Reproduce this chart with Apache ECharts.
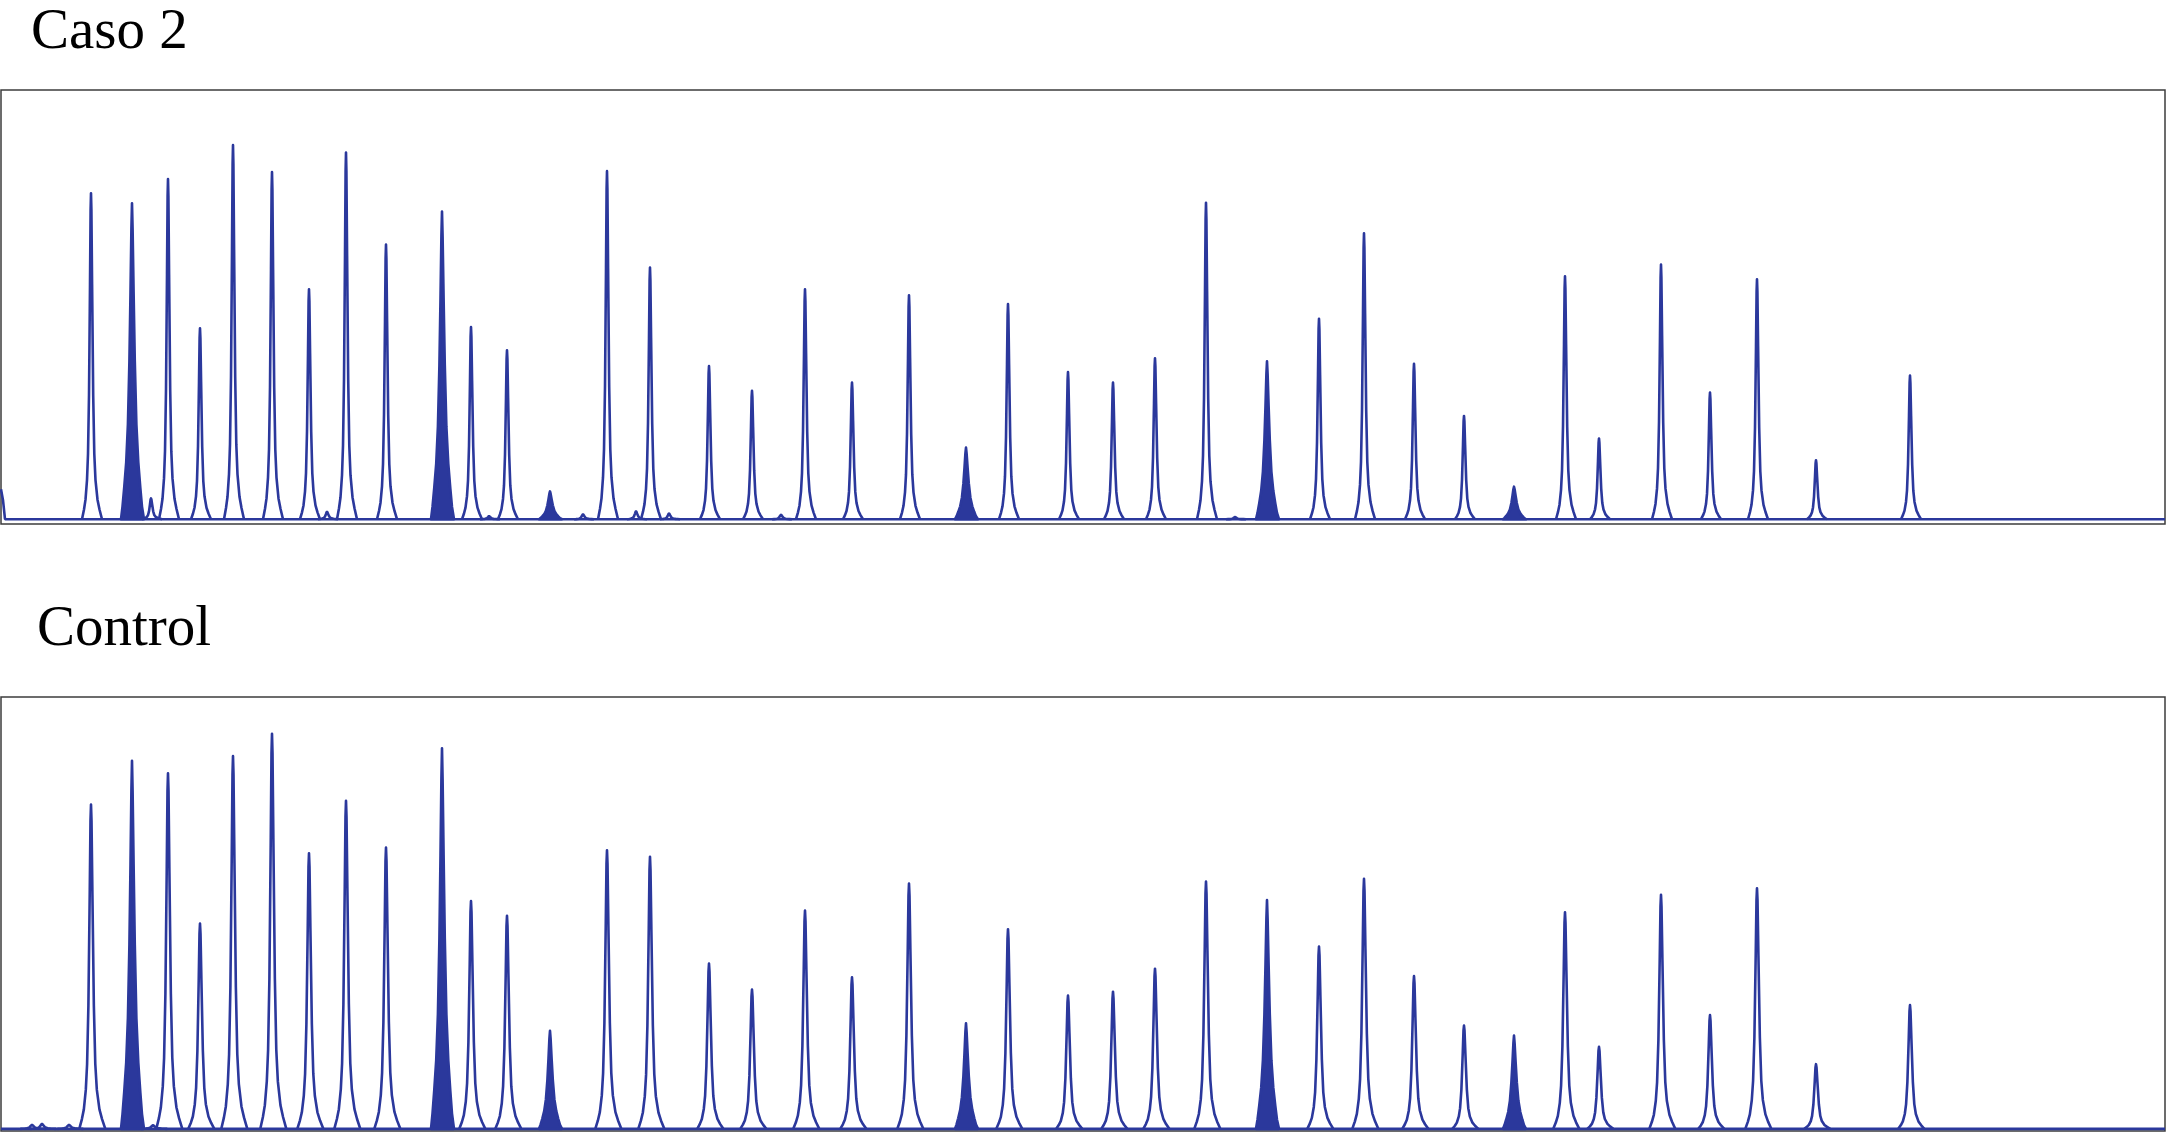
<!DOCTYPE html>
<html>
<head>
<meta charset="utf-8">
<script src="https://cdn.jsdelivr.net/npm/echarts@6/dist/echarts.min.js"></script>
<style>
html, body { margin: 0; padding: 0; background: #fff; }
#main { width: 2167px; height: 1133px; }
</style>
</head>
<body>
<div id="main"></div>
<script>
// peak positions along the trace (scan units), same for both runs
var peakPos = [91, 132, 168, 200, 233, 272, 309, 346, 386, 442, 471, 507, 550,
  607, 650, 709, 752, 805, 852, 909, 966, 1008, 1068, 1113, 1155, 1206, 1267,
  1319, 1364, 1414, 1464, 1514, 1565, 1599, 1661, 1710, 1757, 1816, 1910]
// peak heights, % of panel height
var casoPeaks = [76.2, 73.9, 79.5, 45.1, 87.3, 81.1, 54.1, 85.6, 64.4, 72.0, 45.4, 40.0, 7.5,
  81.3, 59.1, 36.4, 30.7, 54.1, 32.6, 52.7, 17.6, 50.7, 35.0, 32.6, 38.2, 74.0, 37.5,
  47.3, 67.0, 36.9, 24.9, 8.6, 57.1, 19.7, 59.8, 30.3, 56.4, 14.7, 34.2]
var controlPeaks = [75.2, 85.3, 82.4, 47.8, 86.4, 91.5, 64.0, 76.1, 65.3, 88.2, 53.0, 49.6, 23.1,
  64.7, 63.2, 38.6, 32.6, 50.8, 35.4, 57.0, 24.8, 46.5, 31.2, 32.1, 37.4, 57.5, 53.2,
  42.5, 58.1, 35.7, 24.3, 22.0, 50.4, 19.4, 54.4, 26.7, 55.9, 15.4, 29.0]
// reference probes (filled peaks), index into peakPos
var refProbes = [1, 9, 12, 20, 26, 31]
// small bumps [pos, height]
var casoMinor = [[151, 5.9], [327, 2.8], [489, 1.8], [583, 2.2], [636, 2.9], [669, 2.4], [781, 2.1], [1235, 1.6]]
var controlMinor = [[32, 1.4], [42, 1.6], [69, 1.4], [153, 1.3]]
// baseline of each trace [pos, height]
var casoBase = [[1, 8], [3, 5.5], [5, 1.1], [2165, 1.1]]
var controlBase = [[1, 0.5], [2165, 0.5]]

var color = '#2b389c'
// peak outlines: [offset in scan units, fraction of peak height]
var lineShape = [[-9, 0], [-7, 0.03], [-5.5, 0.06], [-4, 0.12], [-3, 0.2], [-2, 0.38], [-1, 0.72],
  [-0.4, 0.95], [0, 1], [0.4, 0.95], [1.1, 0.72], [2.2, 0.38], [3.3, 0.2], [4.5, 0.12],
  [6.5, 0.06], [8.5, 0.03], [11, 0]]
var fillShape = [[-11, 0], [-9.5, 0.04], [-7.8, 0.1], [-5.8, 0.18], [-4.1, 0.3], [-2.6, 0.5], [-1.5, 0.72],
  [-0.6, 0.92], [0, 1], [0.6, 0.92], [1.6, 0.72], [2.8, 0.5], [4.4, 0.3], [6.3, 0.18], [8.3, 0.1],
  [10, 0.04], [12, 0]]

function peakData(heights, minor) {
  var d = peakPos.map(function (x, i) {
    return [x, heights[i], refProbes.indexOf(i) >= 0 ? 1 : 0]
  })
  minor.forEach(function (m) { d.push([m[0], m[1], 0]) })
  return d
}

function peakRender(baseY, k) {
  return function (params, api) {
    var x = api.value(0)
    var h = api.value(1)
    var filled = api.value(2) === 1
    var shape = filled ? fillShape : lineShape
    var kk = filled ? 1 : k
    var pts = shape.map(function (s) {
      return api.coord([x + s[0] * kk, baseY + (h - baseY) * s[1]])
    })
    return {
      type: filled ? 'polygon' : 'polyline',
      shape: { points: pts },
      style: { stroke: color, lineWidth: 2.6, fill: filled ? color : null, lineJoin: 'round' }
    }
  }
}

var titleStyle = { fontFamily: 'Liberation Serif', fontSize: 57, fontWeight: 'normal', color: '#000' }
var gridBase = { show: true, borderColor: '#3c3c3c', borderWidth: 1.5, backgroundColor: 'transparent' }

var myChart = echarts.init(document.getElementById('main'))
var option = {
  animation: false,
  title: [
    { text: 'Caso 2', left: 31, top: 5, padding: 0, textStyle: titleStyle },
    { text: 'Control', left: 37, top: 602, padding: 0, textStyle: titleStyle }
  ],
  grid: [
    Object.assign({ left: 1, top: 90, width: 2164, height: 434 }, gridBase),
    Object.assign({ left: 1, top: 697, width: 2164, height: 434 }, gridBase)
  ],
  xAxis: [
    { type: 'value', gridIndex: 0, min: 1, max: 2165, show: false },
    { type: 'value', gridIndex: 1, min: 1, max: 2165, show: false }
  ],
  yAxis: [
    { type: 'value', gridIndex: 0, min: 0, max: 100, show: false },
    { type: 'value', gridIndex: 1, min: 0, max: 100, show: false }
  ],
  series: [
    {
      type: 'line', xAxisIndex: 0, yAxisIndex: 0, data: casoBase, symbol: 'none',
      lineStyle: { color: color, width: 2.6 }
    },
    {
      type: 'custom', xAxisIndex: 0, yAxisIndex: 0, data: peakData(casoPeaks, casoMinor),
      renderItem: peakRender(1.1, 1), encode: { x: 0, y: 1 }
    },
    {
      type: 'line', xAxisIndex: 1, yAxisIndex: 1, data: controlBase, symbol: 'none',
      lineStyle: { color: color, width: 2.6 }
    },
    {
      type: 'custom', xAxisIndex: 1, yAxisIndex: 1, data: peakData(controlPeaks, controlMinor),
      renderItem: peakRender(0.5, 1.3), encode: { x: 0, y: 1 }
    }
  ]
}
myChart.setOption(option)
</script>
</body>
</html>
